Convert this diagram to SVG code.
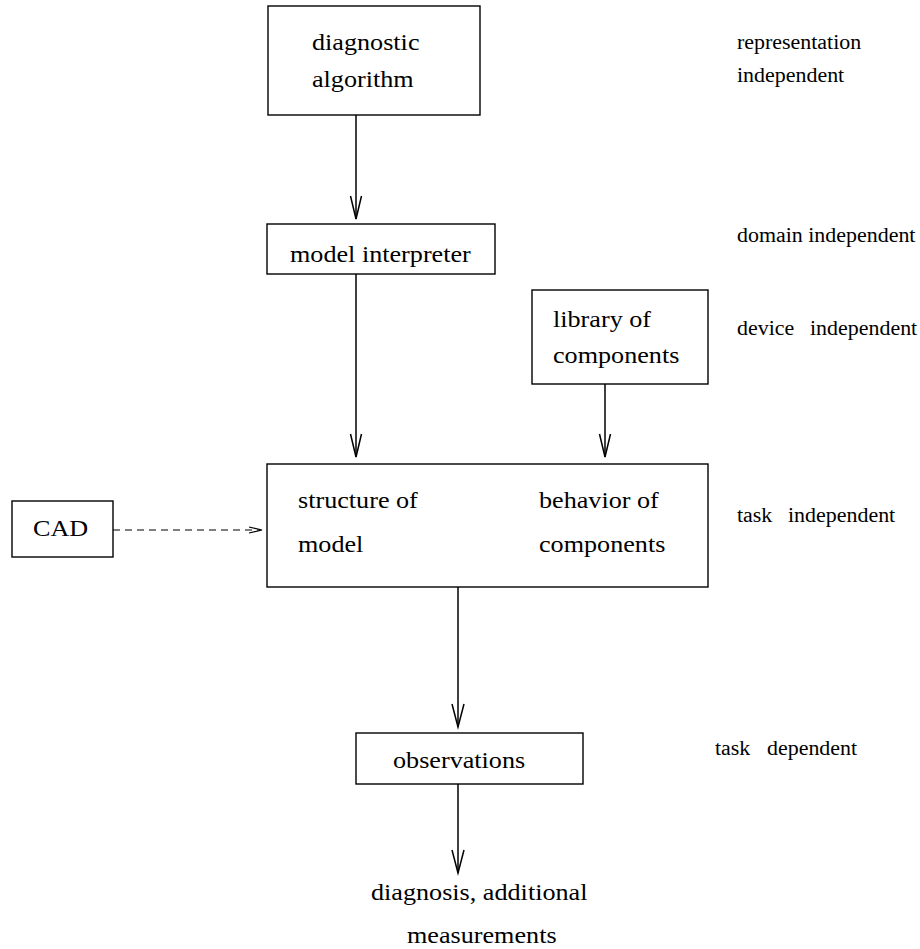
<svg xmlns="http://www.w3.org/2000/svg" width="920" height="949" viewBox="0 0 920 949">
  <style>
    .box { fill: #ffffff; stroke: #000000; stroke-width: 1.4; }
    .edge { fill: none; stroke: #000000; stroke-width: 1.5; }
    .dash { fill: none; stroke: #000000; stroke-width: 1.2; stroke-dasharray: 7 5; }
    .head { fill: none; stroke: #000000; stroke-width: 1.5; }
  </style>
  <rect width="920" height="949" fill="#ffffff"/>

  <!-- nodes; labels are set slightly wide (x-scale 1.09) -->
  <g style="font-family: 'Liberation Serif', serif; font-size: 24px; fill: #000000">
    <g id="diagnostic-algorithm">
      <rect class="box" x="268" y="6" width="212" height="109"/>
      <text transform="matrix(1.09 0 0 1 312 50)">diagnostic</text>
      <text transform="matrix(1.09 0 0 1 312 87)">algorithm</text>
    </g>
    <g id="model-interpreter">
      <rect class="box" x="267" y="224" width="228" height="50"/>
      <text transform="matrix(1.09 0 0 1 290 262)">model interpreter</text>
    </g>
    <g id="library-of-components">
      <rect class="box" x="532" y="290" width="176" height="94"/>
      <text transform="matrix(1.09 0 0 1 553 327)">library of</text>
      <text transform="matrix(1.09 0 0 1 553 363)">components</text>
    </g>
    <g id="model-structure-behavior">
      <rect class="box" x="267" y="464" width="441" height="123"/>
      <text transform="matrix(1.09 0 0 1 298 508)">structure of</text>
      <text transform="matrix(1.09 0 0 1 298 552)">model</text>
      <text transform="matrix(1.09 0 0 1 539 508)">behavior of</text>
      <text transform="matrix(1.09 0 0 1 539 552)">components</text>
    </g>
    <g id="cad">
      <rect class="box" x="12" y="501" width="101" height="56"/>
      <text transform="matrix(1.09 0 0 1 33 536)">CAD</text>
    </g>
    <g id="observations">
      <rect class="box" x="356" y="733" width="227" height="51"/>
      <text transform="matrix(1.09 0 0 1 393 768)">observations</text>
    </g>
    <g id="result">
      <text transform="matrix(1.09 0 0 1 371 900)">diagnosis, additional</text>
      <text transform="matrix(1.09 0 0 1 407 943)">measurements</text>
    </g>
  </g>

  <!-- level annotations -->
  <g id="levels" style="font-family: 'Liberation Serif', serif; font-size: 20px; fill: #000000">
    <text transform="matrix(1.097 0 0 1 737 49)">representation</text>
    <text transform="matrix(1.097 0 0 1 737 82)">independent</text>
    <text transform="matrix(1.097 0 0 1 737 242)">domain independent</text>
    <text transform="matrix(1.097 0 0 1 737 335)">device</text>
    <text transform="matrix(1.097 0 0 1 810 335)">independent</text>
    <text transform="matrix(1.097 0 0 1 737 522)">task</text>
    <text transform="matrix(1.097 0 0 1 788 522)">independent</text>
    <text transform="matrix(1.097 0 0 1 715 755)">task</text>
    <text transform="matrix(1.097 0 0 1 767 755)">dependent</text>
  </g>

  <!-- connectors -->
  <g id="connectors">
    <line class="edge" x1="356" y1="115" x2="356" y2="219"/>
    <polyline class="head" points="350.5,196 356,219 361.5,196"/>

    <line class="edge" x1="356" y1="274" x2="356" y2="457"/>
    <polyline class="head" points="350.5,434 356,457 361.5,434"/>

    <line class="edge" x1="605" y1="384" x2="605" y2="457"/>
    <polyline class="head" points="599.5,434 605,457 610.5,434"/>

    <line class="edge" x1="458" y1="587" x2="458" y2="727"/>
    <polyline class="head" points="452,704 458,727 464,704"/>

    <line class="edge" x1="458" y1="784" x2="458" y2="873"/>
    <polyline class="head" points="452,850 458,873 464,850"/>

    <line class="dash" x1="113" y1="530" x2="260" y2="530"/>
    <polyline class="head" style="stroke-width:1.2" points="249,527 262,530 249,533"/>
  </g>
</svg>
